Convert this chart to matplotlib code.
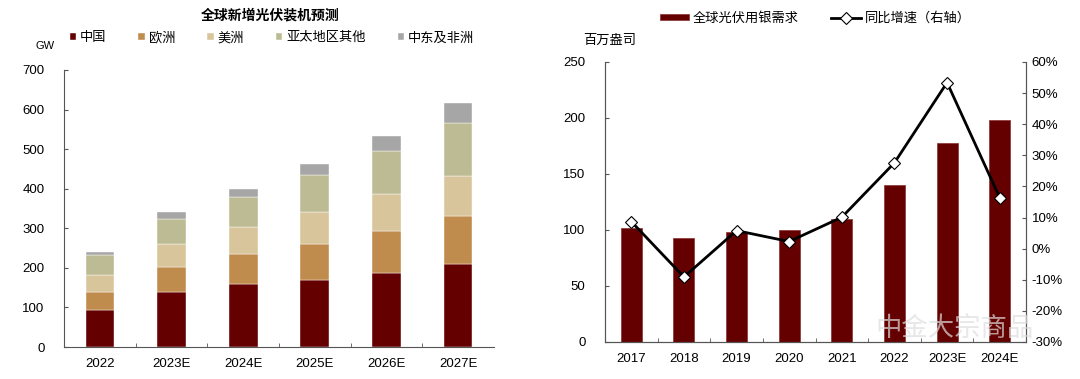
import matplotlib.pyplot as plt
import numpy as np

plt.rcParams['font.family'] = ['Liberation Sans', 'Noto Sans CJK SC']

# 左図：全球新增光伏装机预测 (GW)
years_l = ['2022', '2023E', '2024E', '2025E', '2026E', '2027E']
regions = ['中国', '欧洲', '美洲', '亚太地区其他', '中东及非洲']
china = [94, 140, 160, 170, 188, 210]
europe = [46, 62, 74, 91, 106, 121]
americas = [41, 58, 68, 81, 92, 101]
apac = [51, 63, 76, 92, 110, 135]
mea = [7, 17, 22, 28, 37, 49]
colors_l = ['#640000', '#C08C4E', '#D9C59C', '#BDBB94', '#A6A6A6']

# 右図：全球光伏用银需求 (百万盎司) と同比增速
years_r = ['2017', '2018', '2019', '2020', '2021', '2022', '2023E', '2024E']
silver = [102, 93, 98, 100, 110, 140, 178, 198]
yoy = [8.7, -9.1, 5.8, 2.3, 10.1, 27.6, 53.4, 16.4]

fig = plt.figure(figsize=(10.8, 3.79), dpi=100)
W, H = 1080, 379

# ---- 左のグラフ ----
ax1 = fig.add_axes([64 / W, 1 - 347 / H, 430 / W, 277 / H])
x = np.arange(len(years_l))
bottom = np.zeros(len(years_l))
for name, vals, c in zip(regions, [china, europe, americas, apac, mea], colors_l):
    ax1.bar(x, vals, 0.4, bottom=bottom, color=c, label=name, edgecolor='white', linewidth=0.3)
    bottom += np.array(vals)
ax1.set_xlim(-0.5, len(years_l) - 0.5)
ax1.set_ylim(0, 700)
ax1.set_yticks(range(0, 701, 100))
ax1.set_xticks(x)
ax1.set_xticklabels(years_l)
ax1.set_xticks(np.arange(0.5, len(years_l) - 0.5, 1), minor=True)
ax1.tick_params(axis='x', which='major', length=0, labelsize=9.5, pad=8)
ax1.tick_params(axis='x', which='minor', direction='in', length=3, color='#555555')
ax1.tick_params(axis='y', direction='in', length=3, labelsize=9.5, color='#555555', pad=14)
for s in ['top', 'right']:
    ax1.spines[s].set_visible(False)
for s in ['left', 'bottom']:
    ax1.spines[s].set_color('#555555')
    ax1.spines[s].set_linewidth(0.8)

fig.text(270 / W, 1 - 15 / H, '全球新增光伏装机预测', ha='center', va='center', fontsize=10, fontweight='bold')
fig.text(45 / W, 1 - 46 / H, 'GW', ha='center', va='center', fontsize=8)
ax1.legend(loc='center', bbox_to_anchor=(272 / W, 1 - 38 / H), bbox_transform=fig.transFigure,
           ncol=5, frameon=False, fontsize=9.5, handlelength=0.5, handleheight=0.5,
           handletextpad=0.3, columnspacing=2.4)

# ---- 右のグラフ ----
ax2 = fig.add_axes([605 / W, 1 - 342 / H, 421 / W, 280 / H])
xr = np.arange(len(years_r))
ax2.bar(xr, silver, 0.4, color='#640000', edgecolor='#8A3030', linewidth=0.5, label='全球光伏用银需求')
ax2.set_xlim(-0.5, len(years_r) - 0.5)
ax2.set_ylim(0, 250)
ax2.set_yticks(range(0, 251, 50))
ax2.set_xticks(xr)
ax2.set_xticklabels(years_r)
ax2.set_xticks(np.arange(0.5, len(years_r) - 0.5, 1), minor=True)
ax2.tick_params(axis='x', which='major', length=0, labelsize=9.5, pad=8)
ax2.tick_params(axis='x', which='minor', direction='in', length=3, color='#555555')
ax2.tick_params(axis='y', direction='in', length=3, labelsize=9.5, color='#555555', pad=14)
ax2.spines['top'].set_visible(False)

ax3 = ax2.twinx()
ax3.plot(xr, yoy, color='black', lw=2, marker='D', ms=6, mfc='white', mec='black', mew=0.8,
         label='同比增速（右轴）')
ax3.set_ylim(-30, 60)
ax3.set_yticks(range(-30, 61, 10))
ax3.set_yticklabels([f'{v}%' for v in range(-30, 61, 10)])
ax3.tick_params(axis='y', direction='in', length=3, labelsize=9.5, color='#555555', pad=4)
ax3.spines['top'].set_visible(False)
for a in [ax2, ax3]:
    for s in ['left', 'bottom', 'right']:
        a.spines[s].set_color('#555555')
        a.spines[s].set_linewidth(0.8)

fig.text(610 / W, 1 - 41 / H, '百万盎司', ha='center', va='center', fontsize=9.5)
h1, l1 = ax2.get_legend_handles_labels()
h2, l2 = ax3.get_legend_handles_labels()
fig.legend(h1 + h2, l1 + l2, loc='center', bbox_to_anchor=(815 / W, 1 - 18 / H),
           ncol=2, frameon=False, fontsize=9.5, handlelength=2.2, handleheight=0.3,
           handletextpad=0.3, columnspacing=2.5)

fig.text(955 / W, 1 - 328 / H, '中金大宗商品', ha='center', va='center', fontsize=19,
         color='#dddddd', alpha=0.7)

plt.savefig('out.png', dpi=100)
